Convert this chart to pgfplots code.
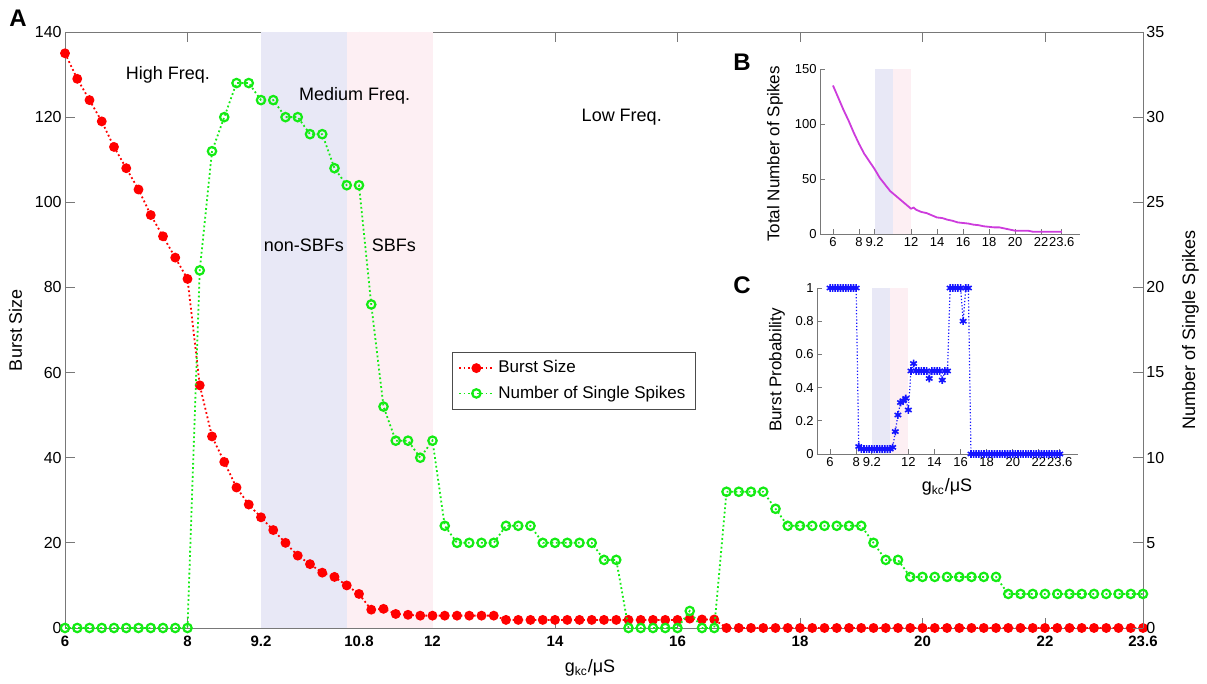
\documentclass[border=0pt]{standalone}
\usepackage{fontspec}
\setmainfont{Liberation Sans}
\usepackage{pgfplots}
\pgfplotsset{compat=1.18}
\usepackage{pgfplotstable}

\definecolor{brst}{RGB}{255,0,0}
\definecolor{sngl}{RGB}{20,235,20}
\definecolor{prob}{RGB}{20,20,255}
\definecolor{tot}{RGB}{205,60,220}
\definecolor{shA}{RGB}{232,232,246}
\definecolor{shB}{RGB}{253,239,243}
\definecolor{spine}{RGB}{120,120,120}

% x = g_kc, burst size, single spikes, burst probability
\pgfplotstableread{
x burst single prob
6.0 135 0 1
6.2 129 0 1
6.4 124 0 1
6.6 119 0 1
6.8 113 0 1
7.0 108 0 1
7.2 103 0 1
7.4 97 0 1
7.6 92 0 1
7.8 87 0 1
8.0 82 0 1
8.2 57 21 0.045
8.4 45 28 0.03
8.6 39 30 0.03
8.8 33 32 0.03
9.0 29 32 0.03
9.2 26 31 0.03
9.4 23 31 0.03
9.6 20 30 0.03
9.8 17 30 0.03
10.0 15 29 0.03
10.2 13 29 0.03
10.4 12 27 0.03
10.6 10 26 0.03
10.8 8 26 0.04
11.0 4.3 19 0.135
11.2 4.5 13 0.235
11.4 3.3 11 0.31
11.6 3.1 11 0.32
11.8 2.9 10 0.335
12.0 2.9 11 0.265
12.2 2.9 6 0.5
12.4 2.9 5 0.545
12.6 2.9 5 0.5
12.8 2.9 5 0.5
13.0 2.9 5 0.5
13.2 1.9 6 0.5
13.4 1.9 6 0.5
13.6 1.9 6 0.455
13.8 1.9 5 0.5
14.0 1.9 5 0.5
14.2 1.9 5 0.5
14.4 1.9 5 0.5
14.6 1.9 5 0.445
14.8 1.9 4 0.5
15.0 1.9 4 0.5
15.2 1.9 0 1
15.4 1.9 0 1
15.6 1.9 0 1
15.8 1.9 0 1
16.0 1.9 0 1
16.2 2.2 1 0.8
16.4 2.0 0 1
16.6 2.0 0 1
16.8 0 8 0
17.0 0 8 0
17.2 0 8 0
17.4 0 8 0
17.6 0 7 0
17.8 0 6 0
18.0 0 6 0
18.2 0 6 0
18.4 0 6 0
18.6 0 6 0
18.8 0 6 0
19.0 0 6 0
19.2 0 5 0
19.4 0 4 0
19.6 0 4 0
19.8 0 3 0
20.0 0 3 0
20.2 0 3 0
20.4 0 3 0
20.6 0 3 0
20.8 0 3 0
21.0 0 3 0
21.2 0 3 0
21.4 0 2 0
21.6 0 2 0
21.8 0 2 0
22.0 0 2 0
22.2 0 2 0
22.4 0 2 0
22.6 0 2 0
22.8 0 2 0
23.0 0 2 0
23.2 0 2 0
23.4 0 2 0
23.6 0 2 0
}\maindata

% total number of spikes (inset B)
\pgfplotstableread{
x total
6.0 135
6.4 124
6.8 113
7.2 103
7.6 92
8.0 82
8.4 73
8.8 66
9.2 59
9.6 51
10.0 45
10.4 39
10.8 35
11.2 31
11.6 27
12.0 23
12.2 24
12.4 22
12.8 20
13.2 19
13.6 17
14.0 15
14.4 14.5
14.8 13
15.2 12
15.6 10.5
16.0 10
16.4 9.5
16.8 8.5
17.2 8
17.6 7
18.0 6.5
18.4 6
18.8 6
19.2 5
19.6 4
20.0 3
20.4 3
21.0 3
21.4 2
22.0 2
23.6 2
}\totaldata

\pgfplotsset{
  dotline/.style={line width=0.9pt, dash pattern=on 0.9pt off 1.3pt},
  burststyle/.style={brst, dotline, mark=*, mark size=2pt,
    mark options={solid, fill=brst, draw=brst}},
  singlestyle/.style={sngl, dotline, mark=o, mark size=2.1pt,
    mark options={solid, line width=1.1pt}},
}

\begin{document}
\begin{tikzpicture}
\useasboundingbox (-32.5pt,-28pt) rectangle (571pt,314pt);

% main panel, left axis
\begin{axis}[
  scale only axis, width=539pt, height=298pt,
  xmin=6, xmax=23.6, ymin=0, ymax=140,
  xtick={6,8,9.2,10.8,12,14,16,18,20,22,23.6},
  xticklabels={6,8,9.2,10.8,12,14,16,18,20,22,23.6},
  ytick={0,20,...,140},
  xtick pos=both, ytick pos=left,
  tick align=inside, major tick length=5pt,
  axis line style={spine}, every tick/.style={spine},
  xticklabel style={font=\fontsize{7.5}{8}\selectfont\bfseries, inner sep=1.5pt, yshift=-2.5pt},
  yticklabel style={font=\fontsize{8}{9}\selectfont, inner sep=1.5pt},
  /pgf/number format/assume math mode=true,
  ylabel={Burst Size},
  ylabel style={font=\fontsize{9}{10}\selectfont, at={(axis description cs:-0.046,0.5)}, anchor=center},
  xlabel={g\textsubscript{kc}/μS},
  xlabel style={font=\fontsize{9}{10}\selectfont, at={(axis description cs:0.487,-0.067)}, anchor=center},
  clip=false,
]
\fill[shA] (axis cs:9.2,0) rectangle (axis cs:10.6,140);
\fill[shB] (axis cs:10.6,0) rectangle (axis cs:12,140);
\addplot[burststyle] table[x=x, y=burst] {\maindata};
\begin{scope}[font=\fontsize{9}{10}\selectfont]
\node at (axis cs:7.68,130) {High Freq.};
\node at (axis cs:10.73,125) {Medium Freq.};
\node at (axis cs:15.09,120) {Low Freq.};
\node at (axis cs:9.9,90) {non-SBFs};
\node at (axis cs:11.37,90) {SBFs};
\end{scope}
\end{axis}

% main panel, right axis
\begin{axis}[
  scale only axis, width=539pt, height=298pt,
  xmin=6, xmax=23.6, ymin=0, ymax=35,
  axis x line=none, axis y line*=right,
  ytick={0,5,...,35},
  tick align=inside, major tick length=5pt,
  axis line style={spine}, every tick/.style={spine},
  yticklabel style={font=\fontsize{8}{9}\selectfont, inner sep=1.5pt},
  /pgf/number format/assume math mode=true,
  ylabel={Number of Single Spikes},
  ylabel style={font=\fontsize{9}{10}\selectfont, at={(axis description cs:1.044,0.5)}, anchor=center},
  legend style={at={(0.359,0.463)}, anchor=north west, draw=black!70,
    font=\fontsize{8.5}{10}\selectfont, row sep=1pt, inner xsep=3pt},
  legend cell align=left,
  clip=false,
]
\addlegendimage{burststyle}
\addlegendentry{Burst Size}
\addplot[singlestyle] table[x=x, y=single] {\maindata};
\addlegendentry{Number of Single Spikes}
\end{axis}

% inset B
\begin{axis}[
  at={(377.5pt,197pt)}, anchor=south west,
  scale only axis, width=130pt, height=82.5pt,
  xmin=5, xmax=25, ymin=0, ymax=150,
  axis lines*=left,
  xtick={6,8,9.2,12,14,16,18,20,22,23.6},
  xticklabels={6,8,9.2,12,14,16,18,20,22,23.6},
  ytick={0,50,100,150},
  tick align=inside, major tick length=2.5pt,
  axis line style={spine}, every tick/.style={spine},
  ticklabel style={font=\fontsize{6.5}{7}\selectfont, inner sep=1.5pt},
  /pgf/number format/assume math mode=true,
  ylabel={Total Number of Spikes},
  ylabel style={font=\fontsize{8.5}{10}\selectfont, at={(axis description cs:-0.173,0.485)}, anchor=center},
  clip=false,
]
\fill[shA] (axis cs:9.2,0) rectangle (axis cs:10.6,150);
\fill[shB] (axis cs:10.6,0) rectangle (axis cs:12,150);
\addplot[tot, line width=0.9pt, no marks] table[x=x, y=total] {\totaldata};
\end{axis}

% inset C
\begin{axis}[
  at={(376pt,87pt)}, anchor=south west,
  scale only axis, width=130.5pt, height=83pt,
  xmin=5, xmax=25, ymin=0, ymax=1,
  axis lines*=left,
  xtick={6,8,9.2,12,14,16,18,20,22,23.6},
  xticklabels={6,8,9.2,12,14,16,18,20,22,23.6},
  ytick={0,0.2,...,1},
  tick align=inside, major tick length=2.5pt,
  axis line style={spine}, every tick/.style={spine},
  ticklabel style={font=\fontsize{6.5}{7}\selectfont, inner sep=1.5pt},
  /pgf/number format/assume math mode=true,
  ylabel={Burst Probability},
  ylabel style={font=\fontsize{8.5}{10}\selectfont, at={(axis description cs:-0.153,0.506)}, anchor=center},
  xlabel={g\textsubscript{kc}/μS},
  xlabel style={font=\fontsize{9}{10}\selectfont, at={(axis description cs:0.498,-0.2)}, anchor=center},
  clip=false,
]
\fill[shA] (axis cs:9.2,0) rectangle (axis cs:10.6,1);
\fill[shB] (axis cs:10.6,0) rectangle (axis cs:12,1);
\addplot[prob, line width=0.6pt, dash pattern=on 0.6pt off 1pt, mark=asterisk, mark size=1.9pt,
  mark options={solid, line width=0.8pt}] table[x=x, y=prob] {\maindata};
\end{axis}

\begin{scope}[font=\fontsize{12}{12}\selectfont\bfseries]
\node at (-23.5pt,305pt) {A};
\node at (338.5pt,283pt) {B};
\node at (338.5pt,171.5pt) {C};
\end{scope}
\end{tikzpicture}
\end{document}
